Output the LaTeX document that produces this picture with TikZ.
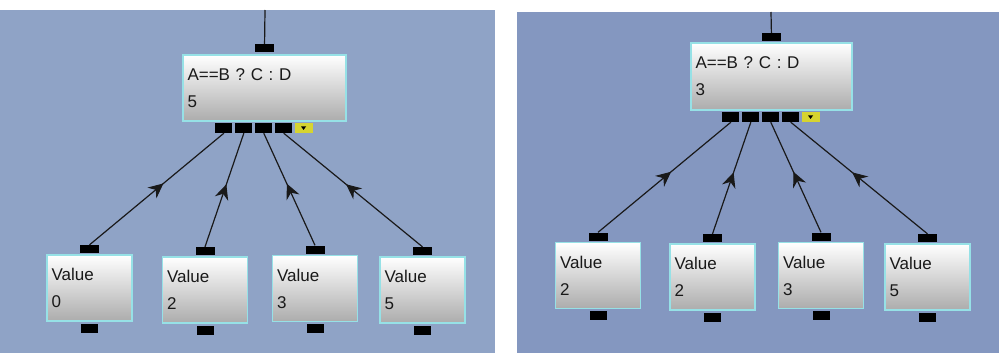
\documentclass[tikz,border=0pt]{standalone}
\usepackage{fontspec}
\setmainfont{Liberation Sans}
\usetikzlibrary{positioning, calc, decorations.markings, arrows.meta}
\definecolor{PanelBlue}{RGB}{143,163,198}
\definecolor{PanelBlueDark}{RGB}{132,151,192}
\definecolor{BoxEdge}{RGB}{150,225,230}
\definecolor{PortYellow}{RGB}{214,212,48}

\begin{document}
\begin{tikzpicture}[
    x=1pt, y=-1pt,
    block/.style={rectangle, draw=BoxEdge, line width=1.5pt, top color=white, bottom color=gray!65,
                  minimum height=66pt, align=left, inner xsep=3.5pt,
                  font=\fontsize{17}{27}\selectfont, text=black!90},
    condbox/.style={block, minimum width=163pt, text width=154pt},
    valbox/.style={block, minimum width=85pt, text width=76pt},
    port/.style={rectangle, fill=black, inner sep=0pt, minimum width=17pt, minimum height=9pt},
    pin/.style={port, minimum width=19pt, minimum height=8pt},
    menu/.style={rectangle, fill=PortYellow, inner sep=0pt, minimum width=18pt, minimum height=10pt},
    wire/.style={line width=1.2pt, black!90, postaction={decorate},
                 decoration={markings, mark=at position 0.55 with {\arrow[line width=1pt]{Stealth[length=15pt,width=14pt,inset=5pt]}}}}
]
\useasboundingbox (0,0) rectangle (999,353);
\fill[white] (0,0) rectangle (999,353);

% Panels
\fill[PanelBlue] (0,10) rectangle (495,353);
\fill[PanelBlueDark] (517,12) rectangle (999,353);

% Left panel
\node[condbox] (condL) at (264.5,88) {A==B ? C : D\\5};
\node[pin, above=2pt of condL] (inL) {};
\coordinate (srcL) at (265,10);
\node[port, minimum height=10pt, anchor=north west] (o1L) at ([xshift=33pt, yshift=-1pt]condL.south west) {};
\node[port, minimum height=10pt, right=2.5pt of o1L] (o2L) {};
\node[port, minimum height=10pt, right=2.5pt of o2L] (o3L) {};
\node[port, minimum height=10pt, right=2.5pt of o3L] (o4L) {};
\node[menu, right=2pt of o4L] (mL) {};
\fill (mL.center) ++(-2.5,-1.5) -- ++(5,0) -- ++(-2.5,3.5) -- cycle;

\node[valbox] (va) at (89.5,288) {Value\\0};
\node[valbox] (vb) at (205,290) {Value\\2};
\node[valbox] (vc) at (315,288.5) {Value\\3};
\node[valbox] (vd) at (422.5,290) {Value\\5};
\node[pin, above=1pt of va] (ia) {};
\node[pin, above=1pt of vb] (ib) {};
\node[pin, above=1pt of vc] (ic) {};
\node[pin, above=1pt of vd] (id) {};
\node[port, below=2pt of va] (qa) {};
\node[port, below=2pt of vb] (qb) {};
\node[port, below=2pt of vc] (qc) {};
\node[port, below=2pt of vd] (qd) {};

% Right panel
\node[condbox, minimum height=67pt, minimum width=161pt, text width=152pt] (condR) at (771.5,76.5) {A==B ? C : D\\3};
\node[pin, above=1pt of condR] (inR) {};
\coordinate (srcR) at (771,12);
\node[port, minimum height=10pt, anchor=north west] (o1R) at ([xshift=32pt, yshift=-1pt]condR.south west) {};
\node[port, minimum height=10pt, right=2.5pt of o1R] (o2R) {};
\node[port, minimum height=10pt, right=2.5pt of o2R] (o3R) {};
\node[port, minimum height=10pt, right=2.5pt of o3R] (o4R) {};
\node[menu, right=2pt of o4R] (mR) {};
\fill (mR.center) ++(-2.5,-1.5) -- ++(5,0) -- ++(-2.5,3.5) -- cycle;

\node[valbox] (ve) at (598,275.5) {Value\\2};
\node[valbox] (vf) at (712.5,277) {Value\\2};
\node[valbox] (vg) at (821,275.5) {Value\\3};
\node[valbox] (vh) at (927.5,277) {Value\\5};
\node[pin, above=1pt of ve] (ie) {};
\node[pin, above=1pt of vf] (if) {};
\node[pin, above=1pt of vg] (ig) {};
\node[pin, above=1pt of vh] (ih) {};
\node[port, below=2pt of ve] (qe) {};
\node[port, below=2pt of vf] (qf) {};
\node[port, below=2pt of vg] (qg) {};
\node[port, below=2pt of vh] (qh) {};

% Wires
\draw[line width=1.2pt, black!90] (srcL) -- (inL);
\draw[line width=1.2pt, black!90] (srcR) -- (inR);
\draw[wire] (ia.north) -- (o1L.south);
\draw[wire] (ib.north) -- (o2L.south);
\draw[wire] (ic.north) -- (o3L.south);
\draw[wire] (id.north) -- (o4L.south);
\draw[wire] (ie.north) -- (o1R.south);
\draw[wire] (if.north) -- (o2R.south);
\draw[wire] (ig.north) -- (o3R.south);
\draw[wire] (ih.north) -- (o4R.south);

\end{tikzpicture}
\end{document}
